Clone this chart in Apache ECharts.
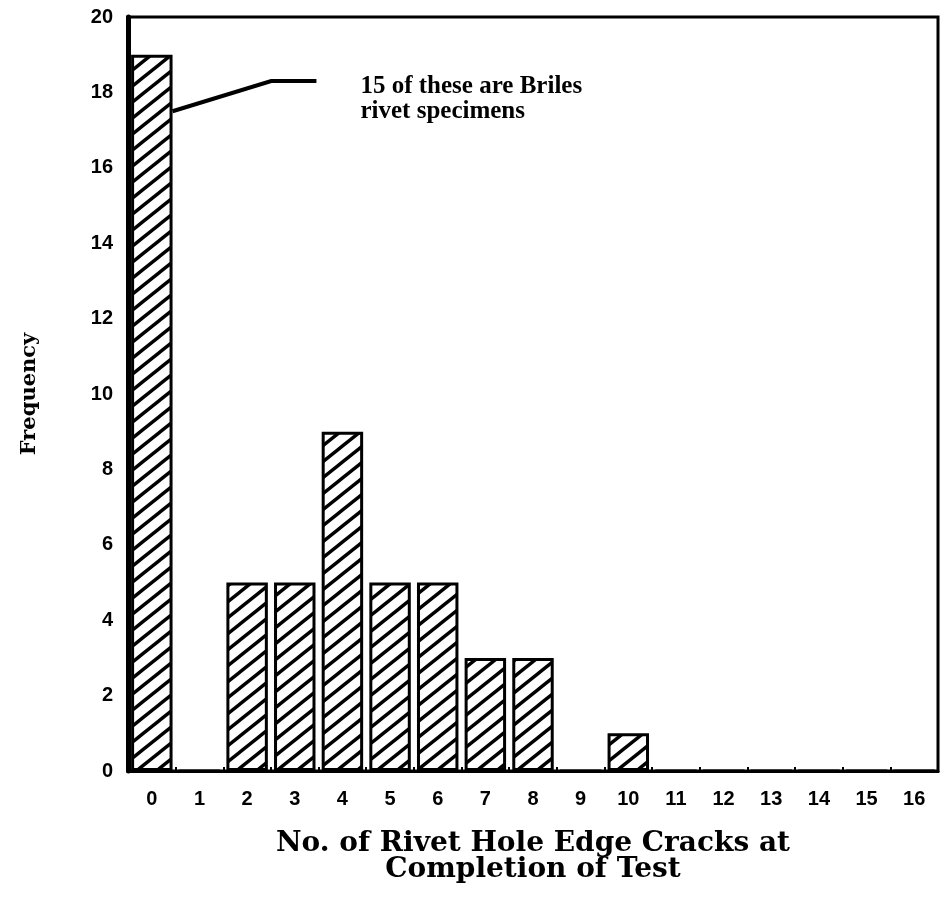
<!DOCTYPE html>
<html>
<head>
<meta charset="utf-8">
<script src="https://cdn.jsdelivr.net/npm/echarts@6/dist/echarts.min.js"></script>
<style>
  html, body { margin: 0; padding: 0; background: #fff; }
  #chart { width: 947px; height: 909px; }
</style>
</head>
<body>
<div id="chart"></div>
<script>
// Histogram: number of rivet hole edge cracks per specimen at end of test
const crackCounts = ['0','1','2','3','4','5','6','7','8','9','10','11','12','13','14','15','16'];
const frequency   = [19, 0, 5, 5, 9, 5, 5, 3, 3, 0, 1, 0, 0, 0, 0, 0, 0];
const yTicks = { min: 0, max: 20, interval: 2 };
const noteLines = ['15 of these are Briles', 'rivet specimens'];
const noteAnchor = 17.5;   // frequency level where the leader touches bar 0
const noteElbow = 18.3;    // frequency level of the leader's horizontal part

// diagonal "/" hatch tile used to fill the bars
function hatchTile() {
  const w = 20, h = 16;
  const c = document.createElement('canvas');
  c.width = w; c.height = h;
  const g = c.getContext('2d');
  g.fillStyle = '#fff';
  g.fillRect(0, 0, w, h);
  g.strokeStyle = '#000';
  g.lineWidth = 3.4;
  g.lineCap = 'square';
  // long strokes so every tile edge is crossed cleanly
  for (const k of [-1, 0, 1]) {
    g.beginPath();
    g.moveTo(k * w - w, 2 * h);
    g.lineTo(k * w + 2 * w, -h);
    g.stroke();
  }
  return c;
}

const chart = echarts.init(document.getElementById('chart'));
const serif = '"Liberation Serif", "Times New Roman", serif';
const wideSerif = '"DejaVu Serif", Georgia, serif';
const sans = '"Liberation Sans", Arial, Helvetica, sans-serif';

chart.setOption({
  animation: false,
  backgroundColor: '#fff',
  grid: {
    left: 128, right: 9, top: 17, bottom: 138,
    show: true, borderColor: '#000', borderWidth: 3, backgroundColor: 'transparent'
  },
  xAxis: {
    type: 'category',
    data: crackCounts,
    boundaryGap: true,
    name: 'No. of Rivet Hole Edge Cracks at\nCompletion of Test',
    nameLocation: 'middle',
    nameGap: 60,
    nameTextStyle: { fontFamily: wideSerif, fontWeight: 'bold', fontSize: 28, color: '#000', lineHeight: 26 },
    axisLine: { show: true, lineStyle: { color: '#000', width: 3 } },
    axisTick: { show: true, inside: true, length: 4, lineStyle: { color: '#000', width: 2 } },
    axisLabel: { color: '#000', fontFamily: sans, fontWeight: 'bold', fontSize: 20, margin: 18 },
    splitLine: { show: false }
  },
  yAxis: {
    type: 'value',
    min: yTicks.min, max: yTicks.max, interval: yTicks.interval,
    name: 'Frequency',
    nameLocation: 'middle',
    nameGap: 88,
    nameTextStyle: { fontFamily: wideSerif, fontWeight: 'bold', fontSize: 21, color: '#000' },
    axisLine: { show: true, lineStyle: { color: '#000', width: 5 } },
    axisTick: { show: false },
    axisLabel: { color: '#000', fontFamily: sans, fontWeight: 'bold', fontSize: 20, margin: 15 },
    splitLine: { show: false }
  },
  series: [{
    type: 'bar',
    data: frequency,
    barWidth: '87%',
    itemStyle: {
      color: { image: hatchTile(), repeat: 'repeat' },
      borderColor: '#000',
      borderWidth: 3
    },
    emphasis: { disabled: true }
  }]
});

// leader line and note pointing at the first bar
function drawNote() {
  const c0 = chart.convertToPixel({ xAxisIndex: 0, yAxisIndex: 0 }, [0, noteAnchor]);
  const c1 = chart.convertToPixel({ xAxisIndex: 0, yAxisIndex: 0 }, [1, noteElbow]);
  const step = c1[0] - c0[0];
  const x0 = c0[0] + step * 0.87 / 2;
  const xBend = x0 + step * 2.07;
  const xEnd = xBend + step * 0.95;
  chart.setOption({
    graphic: [
      {
        type: 'polyline',
        shape: { points: [[x0, c0[1]], [xBend, c1[1]], [xEnd, c1[1]]] },
        style: { stroke: '#000', lineWidth: 4, fill: null }
      },
      {
        type: 'text',
        left: xEnd + 44,
        top: c1[1] - 7,
        style: {
          text: noteLines.join('\n'),
          font: 'bold 25px ' + serif,
          lineHeight: 25,
          fill: '#000'
        }
      }
    ]
  });
}
drawNote();
</script>
</body>
</html>
